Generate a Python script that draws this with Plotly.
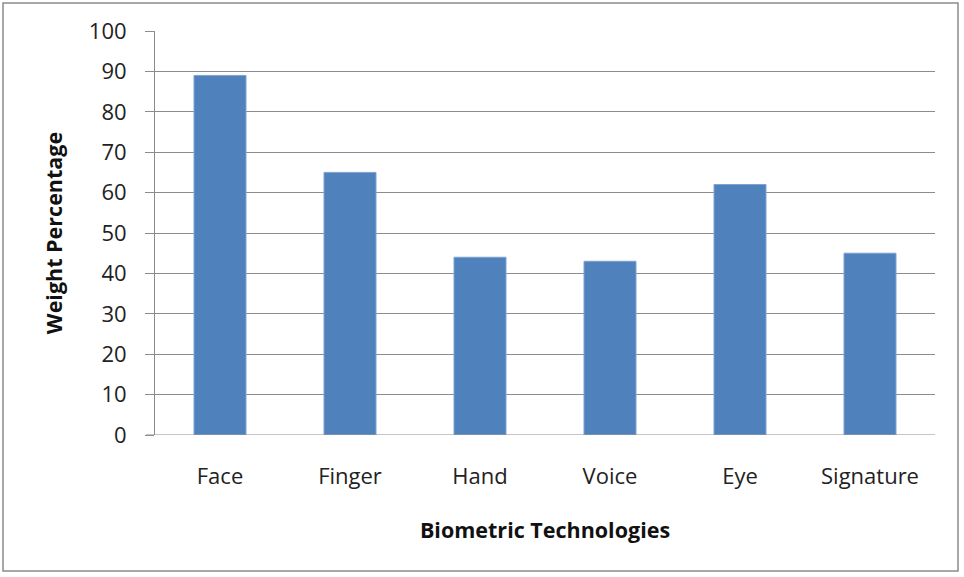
import plotly.graph_objs as go

# Chart data
technologies = ['Face', 'Finger', 'Hand', 'Voice', 'Eye', 'Signature']
weights = [89, 65, 44, 43, 62, 45]
y_ticks = [0, 10, 20, 30, 40, 50, 60, 70, 80, 90, 100]

W, H = 964, 577
left, right, top, bottom = 155, 29, 31, 142
pw = W - left - right
ph = H - top - bottom
grey = '#8C8C8C'

trace = go.Bar(
    x=technologies,
    y=weights,
    marker=dict(color='#4F81BD', line=dict(color='#7FA3D1', width=1)),
)

layout = go.Layout(
    width=W, height=H,
    margin=dict(l=left, r=right, t=top, b=bottom),
    paper_bgcolor='white',
    plot_bgcolor='white',
    bargap=0.6,
    showlegend=False,
    font=dict(family='Open Sans, sans-serif', color='#222222'),
    xaxis=dict(
        showgrid=False,
        showline=False,
        ticks='',
        tickfont=dict(size=22, color='#222222'),
        ticklabelstandoff=26,
        title=dict(text='<b>Biometric Technologies</b>',
                   font=dict(size=21.5, color='#111111'), standoff=33),
    ),
    yaxis=dict(
        range=[0, 100],
        tickvals=y_ticks,
        showgrid=True,
        gridcolor=grey,
        gridwidth=1,
        showline=True,
        linecolor=grey,
        linewidth=1,
        ticks='outside',
        ticklen=9,
        tickcolor=grey,
        tickfont=dict(size=22, color='#222222'),
        ticklabelstandoff=14,
        zeroline=False,
        title=dict(text='<b>Weight Percentage</b>',
                   font=dict(size=21.5, color='#111111'), standoff=20),
    ),
    shapes=[
        # outer chart border
        dict(type='rect', xref='paper', yref='paper',
             x0=(3 - left) / pw, x1=(958 - left) / pw,
             y0=-(571 - (H - bottom)) / ph, y1=1 + (top - 3) / ph,
             line=dict(color=grey, width=1.5), layer='below'),
        # baseline extended over tick
        dict(type='line', xref='paper', yref='y',
             x0=-9 / pw, x1=1, y0=0, y1=0,
             line=dict(color=grey, width=1)),
    ],
)

fig = go.Figure(data=[trace], layout=layout)
fig.write_html('out.html', config={'displayModeBar': False},
               post_script="document.body.style.margin='0';")
